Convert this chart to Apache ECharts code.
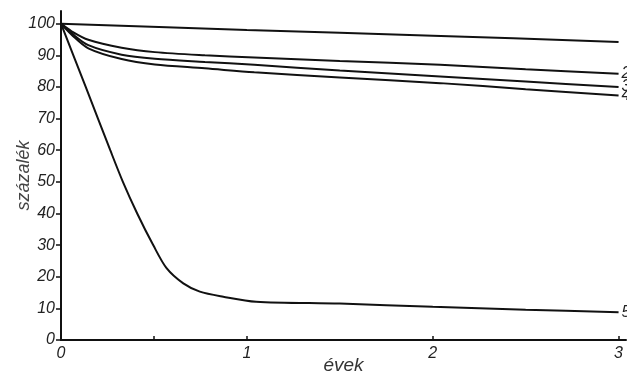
<!DOCTYPE html>
<html>
<head>
<meta charset="utf-8">
<script src="https://cdn.jsdelivr.net/npm/echarts@6/dist/echarts.min.js"></script>
<style>html,body{margin:0;padding:0;background:#fff}#c{width:627px;height:372px}</style>
</head>
<body>
<div id="c"></div>
<script>
var seriesNames = ['1', '2', '3', '4', '5'];
var yTicks = [0, 10, 20, 30, 40, 50, 60, 70, 80, 90, 100];
var xTicks = [0, 1, 2, 3];

var line1X = [0, 1, 2, 3];
var line1Y = [100, 98.0, 96.2, 94.2];

var midX = [0, 0.057, 0.147, 0.326, 0.505, 0.774, 1.04, 1.5, 2.04, 2.5, 3.0];
var line2Y = [100, 97.6, 94.9, 92.4, 91.0, 90.0, 89.3, 88.2, 87.0, 85.6, 84.2];
var line3Y = [100, 97.0, 93.2, 90.2, 88.9, 87.9, 87.0, 85.2, 83.3, 81.7, 80.0];
var line4Y = [100, 96.5, 92.2, 88.8, 87.1, 85.9, 84.6, 83.0, 81.2, 79.3, 77.3];

var line5X = [0, 0.133, 0.265, 0.333, 0.41, 0.496, 0.568, 0.658, 0.747, 0.873, 1.05, 1.5, 2.0, 2.5, 3.0];
var line5Y = [100, 80, 60, 50, 40, 30, 22.7, 17.9, 15.3, 13.7, 12.1, 11.5, 10.5, 9.6, 8.8];

function pairs(xs, ys) { return xs.map(function (x, i) { return [x, ys[i]]; }); }

var FF = 'Liberation Sans, Arial, sans-serif';

function mk(name, data, label, sm) {
  return {
    name: name, type: 'line', data: data, symbol: 'none', smooth: sm,
    lineStyle: { color: '#111', width: 2 },
    endLabel: { show: label, formatter: '{a}', distance: 3, fontFamily: FF, fontStyle: 'italic', fontSize: 16, color: '#222' },
    silent: true
  };
}

var chart = echarts.init(document.getElementById('c'), null, { renderer: 'canvas' });
chart.setOption({
  animation: false,
  backgroundColor: '#fff',
  grid: { left: 61, right: 1, top: 11, bottom: 32, containLabel: false, outerBoundsMode: 'none' },
  xAxis: {
    type: 'value', min: 0, max: 3.04,
    name: 'évek', nameLocation: 'middle', nameGap: 16, nameMoveOverlap: false,
    nameTextStyle: { fontFamily: FF, fontStyle: 'italic', fontSize: 19, color: '#333' },
    axisLine: { show: true, lineStyle: { color: '#111', width: 2 } },
    axisTick: { show: true, inside: true, length: 4, customValues: [0.5, 1, 2, 3], lineStyle: { color: '#111', width: 1.5 } },
    axisLabel: { customValues: xTicks, fontFamily: FF, fontStyle: 'italic', fontSize: 16, color: '#222', margin: 6 },
    splitLine: { show: false }
  },
  yAxis: {
    type: 'value', min: 0, max: 104,
    name: 'százalék', nameLocation: 'middle', nameGap: 28, nameRotate: 90, nameMoveOverlap: false,
    nameTextStyle: { fontFamily: FF, fontStyle: 'italic', fontSize: 18, color: '#444' },
    axisLine: { show: true, lineStyle: { color: '#111', width: 2 } },
    axisTick: { show: true, inside: false, length: 5, customValues: yTicks, lineStyle: { color: '#111', width: 1.5 } },
    axisLabel: { customValues: yTicks, fontFamily: FF, fontStyle: 'italic', fontSize: 16, color: '#222', margin: 6 },
    splitLine: { show: false }
  },
  series: [
    mk(seriesNames[0], pairs(line1X, line1Y), false, 0.3),
    mk(seriesNames[1], pairs(midX, line2Y), true, 0.3),
    mk(seriesNames[2], pairs(midX, line3Y), true, 0.3),
    mk(seriesNames[3], pairs(midX, line4Y), true, 0.3),
    mk(seriesNames[4], pairs(line5X, line5Y), true, 0.3)
  ]
});
</script>
</body>
</html>
